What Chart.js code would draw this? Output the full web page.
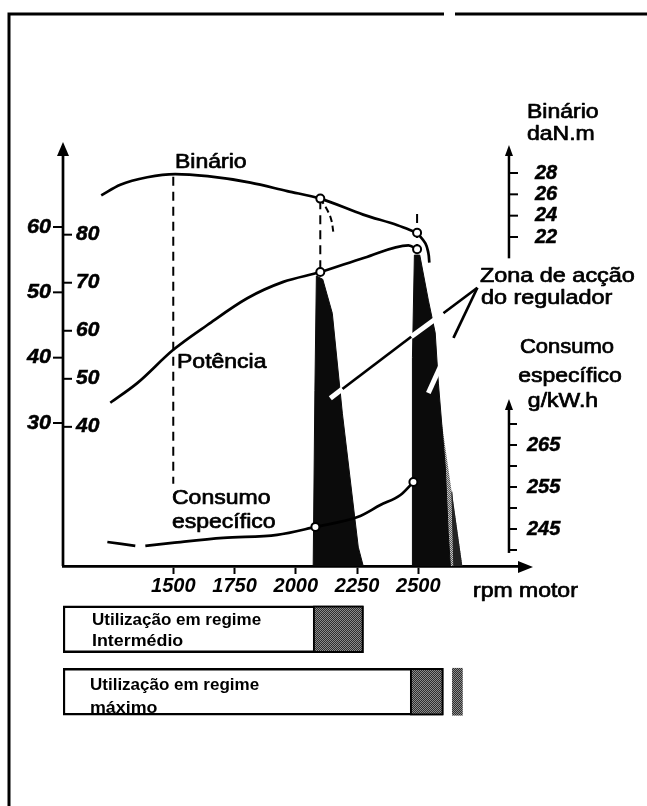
<!DOCTYPE html>
<html>
<head>
<meta charset="utf-8">
<script src="https://cdn.jsdelivr.net/npm/chart.js"></script>
<style>
  html, body { margin: 0; padding: 0; background: #fff; }
  #folha { position: relative; width: 647px; height: 806px; overflow: hidden; }
  #folha canvas { position: absolute; left: 0; top: 0; }
</style>
</head>
<body>
<div id="folha">
  <canvas id="curvas" width="647" height="806"></canvas>
  <canvas id="regimes" width="647" height="806"></canvas>
</div>
<script>
// eixos
const ticksRpm = [1500, 1750, 2000, 2250, 2500];
const ticksKw = [30, 40, 50, 60];
const ticksCv = [40, 50, 60, 70, 80];
const ticksBinario = [22, 24, 26, 28];
const ticksConsumo = [245, 255, 265];
const tracosConsumo = [240, 250, 260, 270];
const eixoDireitoRpm = 2870;

// binário (daN.m)
const rpmBinario = [1206, 1284, 1394, 1508, 1640, 1815, 1965, 2100, 2275, 2415, 2495];
const binario = [25.9, 26.9, 27.6, 27.9, 27.7, 27.1, 26.3, 25.6, 24.1, 23.1, 22.4];
const marcasBinario = [2100, 2495];
const rpmCorte1 = [2100, 2129, 2145, 2153];
const corte1 = [25.6, 24.5, 23.6, 22.5];
const rpmCorte2 = [2495, 2529, 2541, 2545];
const corte2 = [22.4, 21.4, 20.5, 19.6];

// potência (kW)
const rpmPotencia = [1243, 1353, 1500, 1639, 1802, 1949, 2100, 2280, 2460, 2495];
const potencia = [33.1, 36.1, 41.2, 45.0, 49.1, 51.6, 53.1, 55.3, 57.2, 56.6];
const marcasPotencia = [2100, 2495];

// consumo específico (g/kW.h)
const rpmConsumo = [1231, 1345, 1365, 1386, 1496, 1704, 1924, 2080, 2255, 2345, 2427, 2480];
const consumo = [241.9, 241.0, null, 241.0, 241.7, 242.9, 243.6, 245.5, 247.9, 250.7, 253.1, 256.2];
const marcasConsumo = [2080, 2480];

// zonas de acção do regulador (kW)
const rpmZona1 = [2071, 2078, 2084, 2110, 2149, 2190, 2255, 2276];
const zona1 = [8, 35, 52.5, 52, 46.8, 31.5, 11, 8];
const rpmZona2 = [2476, 2476, 2484, 2506, 2541, 2569, 2582, 2610, 2622, 2631];
const zona2 = [8, 40, 55.7, 55.7, 48.8, 43.8, 36.1, 23.3, 13.2, 8];
const rpmZona2Cinza = [2594, 2614, 2680];
const zona2Cinza = [30.5, 8, 8];
const rpmZona2Fim = [2637, 2645, 2680];
const zona2Fim = [19.5, 8, 8];

// linhas de chamada (kW)
const rpmSetaA = [2741, 2602, 2471, 2190, 2141];
const setaA = [50.7, 46.8, 43.2, 35.2, 33.8];
const rpmSetaB = [2741, 2643, 2541];
const setaB = [50.7, 43.0, 34.6];

// linhas de chamada verticais (kW)
const rpmGuias = [1500, 2100, 2495];
const guiaTopo = [67.7, 64.1, 62.0];
const guiaBase = [20.7, 53.1, 57.0];

// barras de utilização
const regimes = ['Intermédio', 'máximo'];
const regimeInicio = [1050, 1050];
const regimeFim = [2276, 2602];
const reguladorInicio = [2071, 2467];
const extraMaximo = [2639, 2680];

const RPM_MIN = 1050, RPM_MAX = 2915;
const TOPO = 148, BASE = 566;
const FONTE = '"Liberation Sans", Arial, Helvetica, sans-serif';
const NUM = 'italic bold 20px ' + FONTE;
const TXT = '20px ' + FONTE;

const zip = (xs, ys) => xs.map((x, i) => [x, ys[i]]);

// escala a partir de dois pontos lidos no original
function faixa(v1, p1, v2, p2) {
  const porPx = (v1 - v2) / (p2 - p1);
  return { min: v1 - (BASE - p1) * porPx, max: v1 + (p1 - TOPO) * porPx };
}
const escKw = faixa(60, 227, 30, 423);
const escBin = faixa(28, 173, 22, 237);
const escCons = faixa(265, 445, 245, 529);

function padrao(a, b) {
  const c = document.createElement('canvas');
  c.width = 2; c.height = 2;
  const g = c.getContext('2d');
  g.fillStyle = a; g.fillRect(0, 0, 2, 2);
  g.fillStyle = b; g.fillRect(0, 0, 1, 1); g.fillRect(1, 1, 1, 1);
  return g.createPattern(c, 'repeat');
}

// texto com esticamento horizontal (o original está alargado) e traço para engrossar
function texto(ctx, s, x, y, font, align, sx, base, grosso) {
  ctx.save();
  ctx.font = font;
  ctx.textAlign = align || 'left';
  ctx.textBaseline = base || 'alphabetic';
  ctx.translate(x, y);
  ctx.scale(sx || 1, 1);
  ctx.fillText(s, 0, 0);
  if (grosso) {
    ctx.strokeStyle = '#000';
    ctx.lineWidth = grosso;
    ctx.lineJoin = 'round';
    ctx.strokeText(s, 0, 0);
  }
  ctx.restore();
}

function seta(ctx, x, y, dir, meia, comp) {
  ctx.beginPath();
  ctx.moveTo(x, y);
  if (dir === 'cima') { ctx.lineTo(x - meia, y + comp); ctx.lineTo(x + meia, y + comp); }
  else { ctx.lineTo(x - comp, y - meia); ctx.lineTo(x - comp, y + meia); }
  ctx.closePath();
  ctx.fill();
}

function traco(ctx, x1, y1, x2, y2) {
  ctx.beginPath(); ctx.moveTo(x1, y1); ctx.lineTo(x2, y2); ctx.stroke();
}

const marcador = marcas => c => (c.raw && marcas.includes(c.raw[0]) ? 4 : 0);

const curva = (data, eixo, extra) => Object.assign({
  data: data, yAxisID: eixo, borderColor: '#000', borderWidth: 2.7,
  pointRadius: 0, pointBackgroundColor: '#fff', pointBorderColor: '#000',
  pointBorderWidth: 2, fill: false, tension: 0
}, extra);

// troços ímpares das chamadas ficam brancos (atravessam as zonas negras)
const corChamada = c => (c.p0DataIndex % 2 === 1 ? '#fff' : '#000');
const largChamada = c => (c.p0DataIndex % 2 === 1 ? 5 : 2.7);

const desenho = {
  id: 'desenho',
  afterDraw(chart) {
    const { ctx, chartArea: a, scales: s } = chart;
    ctx.save();
    ctx.strokeStyle = '#000';
    ctx.fillStyle = '#000';

    // moldura
    ctx.lineWidth = 3;
    ctx.beginPath();
    ctx.moveTo(9, 806); ctx.lineTo(9, 14); ctx.lineTo(444, 14);
    ctx.moveTo(455, 14); ctx.lineTo(647, 14);
    ctx.stroke();

    // eixo vertical esquerdo (kW por fora, cv por dentro)
    ctx.lineWidth = 2.7;
    traco(ctx, a.left, a.bottom, a.left, a.top - 2);
    seta(ctx, a.left, a.top - 6, 'cima', 6, 14);
    ctx.lineWidth = 2;
    ticksKw.forEach(v => {
      const y = s.kw.getPixelForValue(v);
      traco(ctx, a.left - 10, y, a.left, y);
      texto(ctx, String(v), a.left - 12, y, NUM, 'right', 1.08, 'middle', 0.5);
    });
    ticksCv.forEach(v => {
      const y = s.cv.getPixelForValue(v);
      traco(ctx, a.left, y, a.left + 9, y);
      texto(ctx, String(v), a.left + 13, y, NUM, 'left', 1.05, 'middle', 0.5);
    });

    // seta do eixo das rotações
    seta(ctx, a.right + 13, a.bottom + 1, 'dir', 6, 15);

    // eixo do binário
    const xd = s.x.getPixelForValue(eixoDireitoRpm);
    ctx.lineWidth = 2.5;
    traco(ctx, xd, s.binario.getPixelForValue(20), xd, 152);
    seta(ctx, xd, 145, 'cima', 4, 11);
    ctx.lineWidth = 2;
    ticksBinario.forEach(v => {
      const y = s.binario.getPixelForValue(v);
      traco(ctx, xd, y, xd + 9, y);
      texto(ctx, String(v), xd + 26, y, NUM, 'left', 1, 'middle', 0.5);
    });

    // eixo do consumo
    ctx.lineWidth = 2.5;
    traco(ctx, xd, s.consumo.getPixelForValue(239.3), xd, 406);
    seta(ctx, xd, 399, 'cima', 4, 11);
    ctx.lineWidth = 2;
    tracosConsumo.concat(ticksConsumo).forEach(v => {
      const y = s.consumo.getPixelForValue(v);
      traco(ctx, xd, y, xd + 8, y);
    });
    ticksConsumo.forEach(v => {
      texto(ctx, String(v), xd + 18, s.consumo.getPixelForValue(v), NUM, 'left', 1, 'middle', 0.5);
    });

    // textos
    const sx = 1.15, g = 0.7;
    texto(ctx, 'Binário', 527, 118, TXT, 'left', sx, null, g);
    texto(ctx, 'daN.m', 527, 140, TXT, 'left', sx, null, g);
    texto(ctx, 'Binário', 175, 168, TXT, 'left', sx, null, g);
    texto(ctx, 'Potência', 177, 368, TXT, 'left', sx, null, g);
    texto(ctx, 'Consumo', 172, 504, TXT, 'left', sx, null, g);
    texto(ctx, 'específico', 172, 528, TXT, 'left', sx, null, g);
    texto(ctx, 'Zona de acção', 480, 282, TXT, 'left', 1.17, null, g);
    texto(ctx, 'do regulador', 481, 304, TXT, 'left', 1.17, null, g);
    texto(ctx, 'Consumo', 567, 353, TXT, 'center', 1.1, null, g);
    texto(ctx, 'específico', 570, 382, TXT, 'center', sx, null, g);
    texto(ctx, 'g/kW.h', 563, 407, TXT, 'center', sx, null, g);
    texto(ctx, 'rpm motor', 473, 597, TXT, 'left', sx, null, g);
    ctx.restore();
  }
};

const preto = '#0b0b0b';

new Chart(document.getElementById('curvas'), {
  type: 'line',
  data: {
    datasets: [
      curva(zip(rpmBinario, binario), 'binario', { cubicInterpolationMode: 'monotone', pointRadius: marcador(marcasBinario) }),
      curva(zip(rpmPotencia, potencia), 'kw', { cubicInterpolationMode: 'monotone', pointRadius: marcador(marcasPotencia) }),
      curva(zip(rpmConsumo, consumo), 'consumo', { cubicInterpolationMode: 'monotone', spanGaps: false, pointRadius: marcador(marcasConsumo) }),
      curva(zip(rpmCorte2, corte2), 'binario', { tension: 0.4 }),
      curva(zip(rpmCorte1, corte1), 'binario', { tension: 0.4, borderWidth: 2, borderDash: [6, 4] }),
      curva(zip(rpmSetaA, setaA), 'kw', { segment: { borderColor: corChamada, borderWidth: largChamada } }),
      curva(zip(rpmSetaB, setaB), 'kw', { segment: { borderColor: corChamada, borderWidth: largChamada } }),
      ...rpmGuias.map((r, i) => curva([[r, guiaTopo[i]], [r, guiaBase[i]]], 'kw', { borderWidth: 2, borderDash: [9, 6] })),
      curva(zip(rpmZona1, zona1), 'kw', { fill: 'shape', backgroundColor: preto, borderColor: preto, borderWidth: 1 }),
      curva(zip(rpmZona2, zona2), 'kw', { fill: 'shape', backgroundColor: preto, borderColor: preto, borderWidth: 1 }),
      curva(zip(rpmZona2Fim, zona2Fim), 'kw', { fill: 'shape', backgroundColor: '#222', borderColor: '#222', borderWidth: 1 }),
      curva(zip(rpmZona2Cinza, zona2Cinza), 'kw', { fill: 'shape', backgroundColor: padrao('#5a5a5a', '#c4c4c4'), borderWidth: 0 })
    ]
  },
  options: {
    responsive: false,
    animation: false,
    events: [],
    layout: { padding: { left: 63, right: 127, top: TOPO, bottom: 200 } },
    plugins: { legend: { display: false }, tooltip: { enabled: false } },
    scales: {
      x: {
        type: 'linear', min: RPM_MIN, max: RPM_MAX, position: 'bottom',
        afterBuildTicks: s => { s.ticks = ticksRpm.map(v => ({ value: v })); },
        afterFit: s => { s.height = 40; },
        grid: { display: true, drawOnChartArea: false, drawTicks: true, tickLength: 8, tickColor: '#000', tickWidth: 2, color: '#000' },
        border: { display: true, color: '#000', width: 2.7 },
        ticks: {
          color: '#000', padding: 0, autoSkip: false, maxRotation: 0,
          font: { family: FONTE, size: 20, style: 'italic', weight: 'bold' },
          callback: v => String(v)
        }
      },
      kw: { axis: 'y', position: 'left', display: false, min: escKw.min, max: escKw.max },
      cv: { axis: 'y', position: 'left', display: false, min: escKw.min * 1.36, max: escKw.max * 1.36 },
      binario: { axis: 'y', position: 'left', display: false, min: escBin.min, max: escBin.max },
      consumo: { axis: 'y', position: 'left', display: false, min: escCons.min, max: escCons.max }
    }
  },
  plugins: [desenho]
});

// barras "Utilização em regime"
const textosRegime = {
  id: 'textosRegime',
  afterDatasetsDraw(chart) {
    const ctx = chart.ctx;
    ctx.save();
    ctx.fillStyle = '#000';
    const f = 'bold 17px ' + FONTE;
    texto(ctx, 'Utilização em regime', 92, 625, f, 'left', 1);
    texto(ctx, 'Intermédio', 92, 646, f, 'left', 1.05);
    texto(ctx, 'Utilização em regime', 90, 690, f, 'left', 1);
    texto(ctx, 'máximo', 90, 713, f, 'left', 1.05);
    ctx.restore();
  }
};

const cinzaRegulador = padrao('#2e2e2e', '#8c8c8c');

new Chart(document.getElementById('regimes'), {
  type: 'bar',
  data: {
    labels: regimes,
    datasets: [
      { data: reguladorInicio.map((v, i) => [v, regimeFim[i]]), backgroundColor: cinzaRegulador, borderColor: '#000', borderWidth: 2 },
      { data: [null, extraMaximo], backgroundColor: cinzaRegulador, borderWidth: 0 },
      { data: regimeInicio.map((v, i) => [v, regimeFim[i]]), backgroundColor: '#fff', borderColor: '#000', borderWidth: 2.5 }
    ]
  },
  options: {
    indexAxis: 'y',
    responsive: false,
    animation: false,
    events: [],
    datasets: { bar: { grouped: false, barThickness: 47, borderSkipped: false } },
    layout: { padding: { left: 63, right: 127, top: 598, bottom: 83 } },
    plugins: { legend: { display: false }, tooltip: { enabled: false } },
    scales: {
      x: { type: 'linear', min: RPM_MIN, max: RPM_MAX, display: false },
      y: { type: 'category', display: false }
    }
  },
  plugins: [textosRegime]
});
</script>
</body>
</html>
